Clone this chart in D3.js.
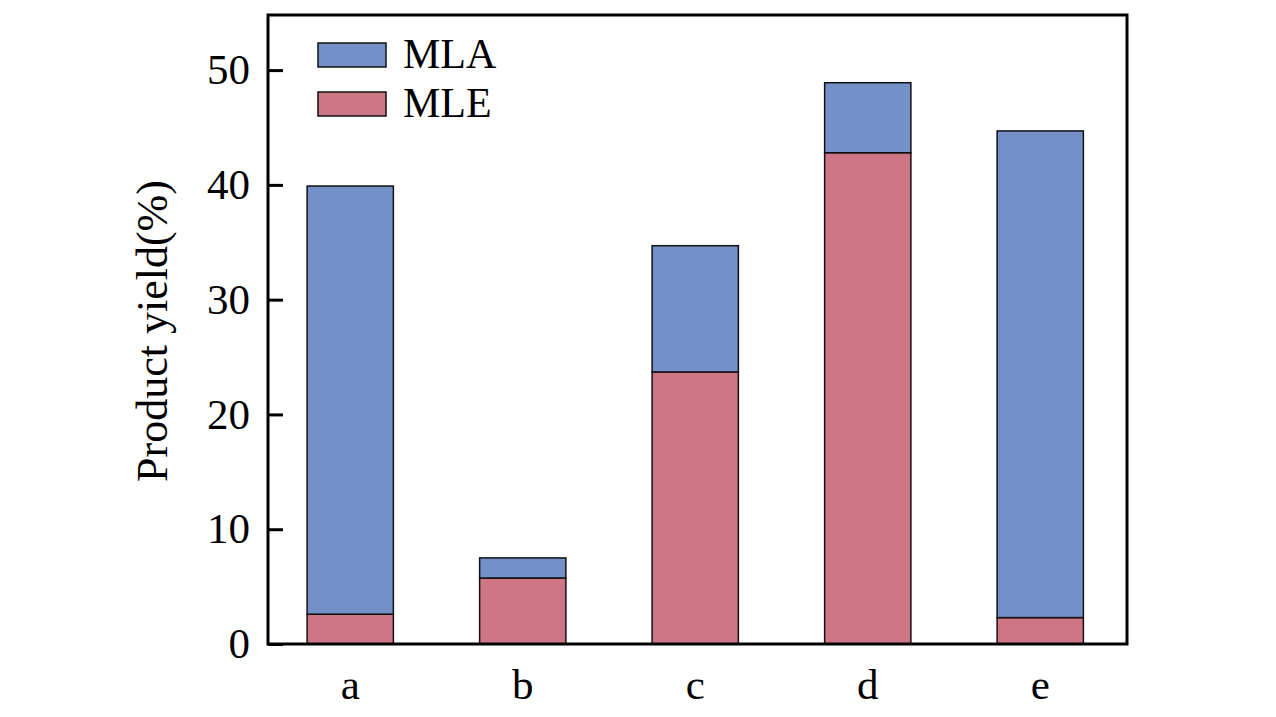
<!DOCTYPE html>
<html>
<head>
<meta charset="utf-8">
<script src="https://cdn.jsdelivr.net/npm/d3@7"></script>
<style>
  html, body { margin: 0; padding: 0; background: #fff; }
  svg { display: block; }
  text { font-family: "Liberation Serif", "Times New Roman", serif; fill: #000; }
</style>
</head>
<body>
<svg id="chart" width="1276" height="717"></svg>
<script>
const categories = ["a", "b", "c", "d", "e"];
const seriesNames = ["MLE", "MLA"];
const mleValues = [2.6, 5.75, 23.7, 42.8, 2.3];
const mlaValues = [37.3, 1.75, 11.0, 6.1, 42.4];
const yTicks = [0, 10, 20, 30, 40, 50];
const colors = { MLA: "#7490c8", MLE: "#cf7686" };

const svg = d3.select("#chart");
const frame = { left: 268, right: 1127, top: 15, bottom: 644 };

const x = d3.scaleBand().domain(categories).range([264, 1126.5]).paddingInner(0.5).paddingOuter(0.25);
const y = d3.scaleLinear().domain([0, 54.8]).range([frame.bottom, frame.top]);

const table = categories.map((c, i) => ({ cat: c, MLE: mleValues[i], MLA: mlaValues[i] }));
const stacked = d3.stack().keys(seriesNames)(table);

// bars
svg.append("g").selectAll("g").data(stacked).join("g")
  .attr("fill", d => colors[d.key])
  .selectAll("rect").data(d => d).join("rect")
  .attr("x", d => x(d.data.cat))
  .attr("width", x.bandwidth())
  .attr("y", d => y(d[1]))
  .attr("height", d => y(d[0]) - y(d[1]))
  .attr("stroke", "#111")
  .attr("stroke-width", 1.5);

// frame
svg.append("rect")
  .attr("x", frame.left).attr("y", frame.top)
  .attr("width", frame.right - frame.left).attr("height", frame.bottom - frame.top)
  .attr("fill", "none").attr("stroke", "#000").attr("stroke-width", 3);

// y axis
const yAxis = svg.append("g").attr("transform", `translate(${frame.left},0)`)
  .call(d3.axisLeft(y).tickValues(yTicks).tickSize(-15).tickPadding(18));
yAxis.select(".domain").remove();
yAxis.selectAll(".tick line").attr("stroke", "#000").attr("stroke-width", 3);
yAxis.selectAll(".tick text").attr("font-size", 43).attr("font-family", "Liberation Serif");

// x axis
const xAxis = svg.append("g").attr("transform", `translate(0,${frame.bottom})`)
  .call(d3.axisBottom(x).tickSize(0).tickPadding(24));
xAxis.select(".domain").remove();
xAxis.selectAll(".tick text").attr("font-size", 43).attr("font-family", "Liberation Serif");

// y label
svg.append("text")
  .attr("transform", `translate(167,331) rotate(-90)`)
  .attr("text-anchor", "middle")
  .attr("font-size", 44)
  .text("Product yield(%)");

// legend
const legendItems = ["MLA", "MLE"];
const lg = svg.append("g");
legendItems.forEach((k, i) => {
  const yy = 43 + i * 49;
  lg.append("rect").attr("x", 318).attr("y", yy).attr("width", 68).attr("height", 24)
    .attr("fill", colors[k]).attr("stroke", "#111").attr("stroke-width", 1.5);
  lg.append("text").attr("x", 403).attr("y", yy + 25)
    .attr("font-size", 42).text(k);
});
</script>
</body>
</html>
